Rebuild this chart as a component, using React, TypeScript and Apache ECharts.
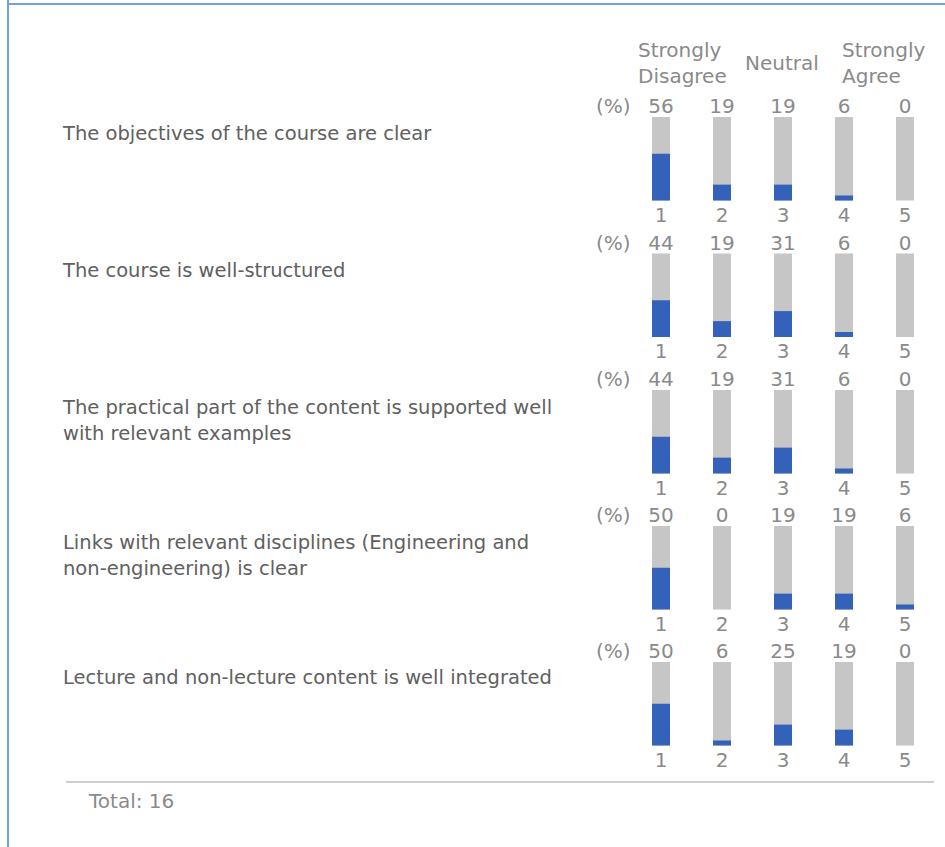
import React, { useEffect, useRef } from "react";
import * as echarts from "echarts";

// ---- data ----
const questions: string[] = [
  "The objectives of the course are clear",
  "The course is well-structured",
  "The practical part of the content is supported well\nwith relevant examples",
  "Links with relevant disciplines (Engineering and\nnon-engineering) is clear",
  "Lecture and non-lecture content is well integrated",
];
const scalePoints: string[] = ["1", "2", "3", "4", "5"];
const q1Values: number[] = [56, 19, 19, 6, 0];
const q2Values: number[] = [44, 19, 31, 6, 0];
const q3Values: number[] = [44, 19, 31, 6, 0];
const q4Values: number[] = [50, 0, 19, 19, 6];
const q5Values: number[] = [50, 6, 25, 19, 0];
const allValues: number[][] = [q1Values, q2Values, q3Values, q4Values, q5Values];
const headerLeft = "Strongly\nDisagree";
const headerMid = "Neutral";
const headerRight = "Strongly\nAgree";
const unitLabel = "(%)";
const totalResponses = 16;

// ---- layout / style ----
const W = 945;
const H = 847;
const gridTops = [117, 253.5, 390, 526, 662];
const gridHeight = 83.5;
const gridLeft = 630.5;
const gridWidth = 305;
const labelFirstLineY = [133, 270, 407, 542, 677];
const FONT = "'DejaVu Sans', Verdana, sans-serif";
const NUM_COLOR = "#8a8a8a";
const LABEL_COLOR = "#606060";
const BLUE = "#3461b9";
const GRAY = "#c6c6c6";
const BORDER = "#72a2de";

export default function App() {
  const ref = useRef<HTMLDivElement>(null);

  useEffect(() => {
    document.body.style.margin = "0";
    if (!ref.current) return;
    const chart = echarts.init(ref.current, undefined, { renderer: "svg" });

    const grids = gridTops.map((top) => ({
      left: gridLeft,
      top,
      width: gridWidth,
      height: gridHeight,
      containLabel: false,
    }));

    const xAxes: any[] = [];
    const yAxes: any[] = [];
    const series: any[] = [];
    allValues.forEach((vals, i) => {
      xAxes.push({
        type: "category",
        gridIndex: i,
        position: "bottom",
        data: scalePoints,
        axisLine: { show: false },
        axisTick: { show: false },
        splitLine: { show: false },
        axisLabel: { color: NUM_COLOR, fontSize: 20, fontFamily: FONT, margin: 4 },
      });
      xAxes.push({
        type: "category",
        gridIndex: i,
        position: "top",
        data: vals.map((v) => String(v)),
        axisLine: { show: false },
        axisTick: { show: false },
        splitLine: { show: false },
        axisLabel: { color: NUM_COLOR, fontSize: 20, fontFamily: FONT, margin: 1 },
      });
      yAxes.push({
        type: "value",
        gridIndex: i,
        min: 0,
        max: 100,
        name: unitLabel,
        nameLocation: "end",
        nameGap: 11,
        nameTextStyle: {
          color: NUM_COLOR,
          fontSize: 20,
          fontFamily: FONT,
          align: "right",
          verticalAlign: "middle",
        },
        axisLine: { show: false },
        axisTick: { show: false },
        axisLabel: { show: false },
        splitLine: { show: false },
      });
      series.push({
        type: "bar",
        xAxisIndex: i * 2,
        yAxisIndex: i,
        data: vals,
        barWidth: 18,
        itemStyle: { color: BLUE },
        showBackground: true,
        backgroundStyle: { color: GRAY },
      });
    });

    const graphics: any[] = [
      { type: "line", shape: { x1: 8, y1: 0, x2: 8, y2: H }, style: { stroke: BORDER, lineWidth: 2 } },
      { type: "line", shape: { x1: 8, y1: 4, x2: W, y2: 4 }, style: { stroke: BORDER, lineWidth: 2 } },
      { type: "line", shape: { x1: 66, y1: 782, x2: 934, y2: 782 }, style: { stroke: "#cfcfcf", lineWidth: 2 } },
      {
        type: "text",
        left: 89,
        top: 791,
        style: { text: "Total: " + totalResponses, fill: NUM_COLOR, font: `20px ${FONT}` },
      },
      {
        type: "text",
        x: 638,
        y: 37,
        style: { text: headerLeft, fill: NUM_COLOR, font: `20px ${FONT}`, lineHeight: 26, textVerticalAlign: "top" },
      },
      {
        type: "text",
        x: 745,
        y: 50,
        style: { text: headerMid, fill: NUM_COLOR, font: `20px ${FONT}`, lineHeight: 26, textVerticalAlign: "top" },
      },
      {
        type: "text",
        x: 842,
        y: 37,
        style: { text: headerRight, fill: NUM_COLOR, font: `20px ${FONT}`, lineHeight: 26, textVerticalAlign: "top" },
      },
    ];
    questions.forEach((q, i) => {
      graphics.push({
        type: "text",
        x: 63,
        y: labelFirstLineY[i] - 13,
        style: { text: q, fill: LABEL_COLOR, font: `19.5px ${FONT}`, lineHeight: 26, textVerticalAlign: "top" },
      });
    });

    chart.setOption({
      animation: false,
      backgroundColor: "#ffffff",
      grid: grids,
      xAxis: xAxes,
      yAxis: yAxes,
      series,
      graphic: graphics,
    });

    return () => chart.dispose();
  }, []);

  return <div ref={ref} style={{ width: W, height: H }} />;
}
